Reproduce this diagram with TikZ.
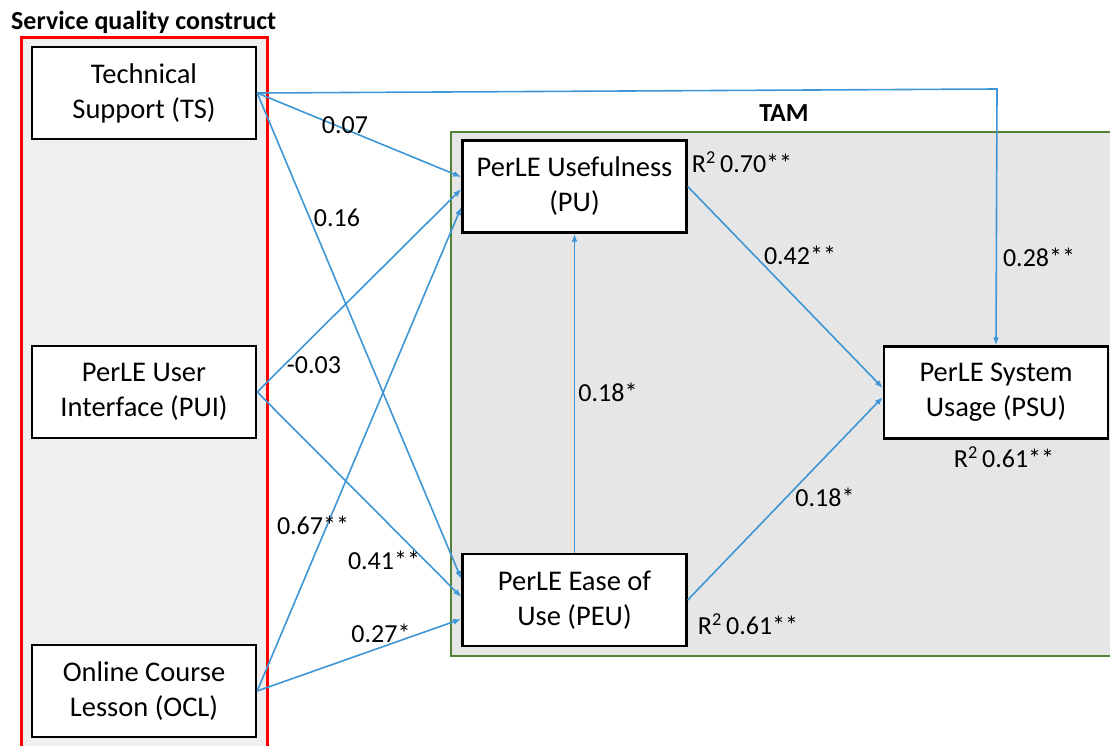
\documentclass[tikz,border=0pt]{standalone}
\usepackage{fontspec}
\setmainfont{Carlito}
\usetikzlibrary{positioning,arrows.meta}
\definecolor{linkblue}{RGB}{62,150,214}
\definecolor{tamgreen}{RGB}{84,130,53}
\definecolor{sqgray}{RGB}{239,239,239}
\definecolor{tamgray}{RGB}{230,230,230}

\begin{document}
\begin{tikzpicture}[x=1pt,y=-1pt,
  construct/.style={draw,fill=white,line width=2.4pt,minimum width=224pt,minimum height=92pt,
    align=center,inner sep=0pt,font=\fontsize{28.5}{35}\selectfont},
  coef/.style={inner sep=0pt,font=\fontsize{26}{30}\selectfont},
  heading/.style={inner sep=0pt,font=\fontsize{26}{30}\selectfont\bfseries},
  link/.style={linkblue,line width=1.6pt,->},
  >={Latex[length=8pt,width=6pt]}]
  \useasboundingbox (0,0) rectangle (1110,746);
  \clip (0,0) rectangle (1110,746);
  % groups
  \draw[red,line width=3pt,fill=sqgray] (21,38) rectangle (267,770);
  \draw[tamgreen,line width=2.8pt,fill=tamgray] (451,132) rectangle (1130,656);
  \node[heading,anchor=west] (sq) at (11,22) {Service quality construct};
  \node[heading] (tam) at (784,113) {TAM};
  % constructs
  \node[construct] (TS) at (144,93) {Technical\\Support (TS)};
  \node[construct] (PUI) at (144,392) {PerLE User\\Interface (PUI)};
  \node[construct] (OCL) at (144,691) {Online Course\\Lesson (OCL)};
  \node[construct] (PU) at (574.5,186.5) {PerLE Usefulness\\(PU)};
  \node[construct] (PEU) at (574.5,600) {PerLE Ease of\\Use (PEU)};
  \node[construct] (PSU) at (996,392.5) {PerLE System\\Usage (PSU)};
  \coordinate (bend) at (997,89);
  % paths
  \draw[link] (TS.east) -- ([yshift=9.5pt]PU.west);
  \draw[link] (TS.east) -- ([yshift=21pt]PEU.west);
  \draw[link] (TS.east) -- (bend) -- (PSU.north);
  \draw[link] (PUI.east) -- ([yshift=-2.5pt]PU.west);
  \draw[link] (PUI.east) -- ([yshift=3pt]PEU.west);
  \draw[link] (OCL.east) -- ([yshift=-20.5pt]PU.west);
  \draw[link] (OCL.east) -- ([yshift=-19pt]PEU.west);
  \draw[link] (PEU.north) -- (PU.south);
  \draw[link] (PU.east) -- ([yshift=4.5pt]PSU.west);
  \draw[link] (PEU.east) -- ([yshift=-4.5pt]PSU.west);
  % coefficients
  \node[coef] (c1) at (345,125) {0.07};
  \node[coef] (c2) at (337,218) {0.16};
  \node[coef] (c3) at (314,365) {-0.03};
  \node[coef] (c4) at (313,525) {0.67**};
  \node[coef] (c5) at (384,560) {0.41**};
  \node[coef] (c6) at (381,633) {0.27*};
  \node[coef] (c7) at (1039,257) {0.28**};
  \node[coef] (c8) at (608,392) {0.18*};
  \node[coef] (c9) at (800,255) {0.42**};
  \node[coef] (c10) at (825,497) {0.18*};
  \node[coef] (r1) at (742,162) {R\textsuperscript{2}\,0.70**};
  \node[coef] (r2) at (1004,457) {R\textsuperscript{2}\,0.61**};
  \node[coef] (r3) at (748,624) {R\textsuperscript{2}\,0.61**};
\end{tikzpicture}
\end{document}
